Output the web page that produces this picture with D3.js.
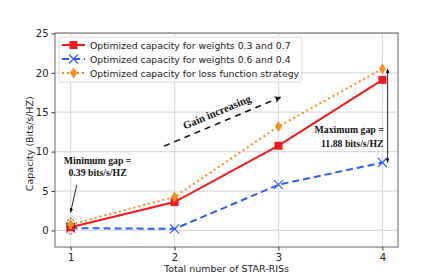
<!DOCTYPE html>
<html>
<head>
<meta charset="utf-8">
<script src="https://cdn.jsdelivr.net/npm/d3@7"></script>
<style>
  body { margin: 0; background: #fff; }
  svg { display: block; }
</style>
</head>
<body>
<div id="chart"></div>
<script>
// Chart data
var starRis = [1, 2, 3, 4];
var weights37 = [0.4, 3.6, 10.75, 19.1];
var weights64 = [0.3, 0.2, 5.8, 8.62];
var lossStrategy = [0.75, 4.25, 13.2, 20.5];
var yTicks = [0, 5, 10, 15, 20, 25];
var seriesNames = [
    "Optimized capacity for weights 0.3 and 0.7",
    "Optimized capacity for weights 0.6 and 0.4",
    "Optimized capacity for loss function strategy"
];

var svgWidth = 443, svgHeight = 277;
var margin = { top: 33, right: 45, bottom: 30, left: 55 };
var width = svgWidth - margin.left - margin.right;
var height = svgHeight - margin.top - margin.bottom;

var svg = d3.select("#chart").append("svg")
    .attr("width", svgWidth)
    .attr("height", svgHeight);

var chartGroup = svg.append("g")
    .attr("transform", `translate(${margin.left}, ${margin.top})`);

var xScale = d3.scaleLinear().domain([0.85, 4.15]).range([0, width]);
var yScale = d3.scaleLinear().domain([-2.1, 25.05]).range([height, 0]);

// Grid
chartGroup.append("g").selectAll("line")
    .data(starRis).enter().append("line")
    .attr("x1", d => xScale(d)).attr("x2", d => xScale(d))
    .attr("y1", 0).attr("y2", height)
    .attr("stroke", "#dcdcdc").attr("stroke-width", 1.2);
chartGroup.append("g").selectAll("line")
    .data(yTicks).enter().append("line")
    .attr("y1", d => yScale(d)).attr("y2", d => yScale(d))
    .attr("x1", 0).attr("x2", width)
    .attr("stroke", "#dcdcdc").attr("stroke-width", 1.2);

// Axes
var xAxis = d3.axisBottom(xScale).tickValues(starRis).tickFormat(d3.format("d")).tickSize(3.5);
var yAxis = d3.axisLeft(yScale).tickValues(yTicks).tickSize(3.5);

var gx = chartGroup.append("g").attr("transform", `translate(0, ${height})`).call(xAxis);
var gy = chartGroup.append("g").call(yAxis);
[gx, gy].forEach(function(g) {
    g.select(".domain").remove();
    g.selectAll("line").attr("stroke", "#333");
    g.selectAll("text").attr("font-family", "DejaVu Sans").attr("font-size", "10px").attr("fill", "#222");
});

chartGroup.append("rect")
    .attr("width", width).attr("height", height)
    .attr("fill", "none").attr("stroke", "#666").attr("stroke-width", 1);

// Lines
var line = d3.line().x((d, i) => xScale(starRis[i])).y(d => yScale(d));

chartGroup.append("path").datum(weights64)
    .attr("d", line).attr("fill", "none")
    .attr("stroke", "#2f5cf5").attr("stroke-width", 2)
    .attr("stroke-dasharray", "7,4");

chartGroup.append("path").datum(lossStrategy)
    .attr("d", line).attr("fill", "none")
    .attr("stroke", "#ff8c1a").attr("stroke-width", 2)
    .attr("stroke-dasharray", "2,3");

chartGroup.append("path").datum(weights37)
    .attr("d", line).attr("fill", "none")
    .attr("stroke", "#f21b1b").attr("stroke-width", 2);

// Markers
function drawSquares(g, data, cx, cy) {
    g.selectAll(null).data(data).enter().append("rect")
        .attr("x", (d, i) => cx(i) - 4).attr("y", d => cy(d) - 4)
        .attr("width", 8).attr("height", 8).attr("fill", "#f21b1b");
}
function drawCrosses(g, data, cx, cy) {
    g.selectAll(null).data(data).enter().append("path")
        .attr("d", (d, i) => {
            var x = cx(i), y = cy(d), s = 4.5;
            return `M${x - s},${y - s}L${x + s},${y + s}M${x - s},${y + s}L${x + s},${y - s}`;
        })
        .attr("stroke", "#2f5cf5").attr("stroke-width", 1.1).attr("fill", "none");
}
function drawDiamonds(g, data, cx, cy) {
    g.selectAll(null).data(data).enter().append("path")
        .attr("d", (d, i) => {
            var x = cx(i), y = cy(d);
            return `M${x},${y - 5.5}L${x + 3.5},${y}L${x},${y + 5.5}L${x - 3.5},${y}Z`;
        })
        .attr("fill", "#ff8c1a");
}
var cxf = i => xScale(starRis[i]);
var cyf = d => yScale(d);
drawCrosses(chartGroup.append("g"), weights64, cxf, cyf);
drawSquares(chartGroup.append("g"), weights37, cxf, cyf);
drawDiamonds(chartGroup.append("g"), lossStrategy, cxf, cyf);

// Legend
var legend = chartGroup.append("g").attr("transform", "translate(4, 4)");
legend.append("rect")
    .attr("width", 243).attr("height", 45).attr("rx", 2)
    .attr("fill", "#fff").attr("fill-opacity", 0.85)
    .attr("stroke", "#ddd");
var legendStyles = [
    { color: "#f21b1b", dash: null, marker: drawSquares },
    { color: "#2f5cf5", dash: "7,4", marker: drawCrosses },
    { color: "#ff8c1a", dash: "2,3", marker: drawDiamonds }
];
seriesNames.forEach(function(name, i) {
    var ly = 8 + i * 14;
    var st = legendStyles[i];
    legend.append("line")
        .attr("x1", 3).attr("x2", 26).attr("y1", ly).attr("y2", ly)
        .attr("stroke", st.color).attr("stroke-width", 2)
        .attr("stroke-dasharray", st.dash);
    st.marker(legend, [ly], () => 14.5, d => d);
    legend.append("text")
        .attr("x", 31).attr("y", ly)
        .attr("dominant-baseline", "central")
        .attr("font-family", "DejaVu Sans").attr("font-size", "9.3px").attr("fill", "#222")
        .text(name);
});

// Axis labels
chartGroup.append("text")
    .attr("transform", `translate(${width / 2}, ${height + 25})`)
    .attr("text-anchor", "middle")
    .attr("font-family", "DejaVu Sans").attr("font-size", "9.5px").attr("fill", "#222")
    .text("Total number of STAR-RISs");

chartGroup.append("text")
    .attr("transform", `translate(-22, ${yScale(11)}) rotate(-90)`)
    .attr("text-anchor", "middle")
    .attr("font-family", "DejaVu Sans").attr("font-size", "9.5px").attr("fill", "#222")
    .text("Capacity (Bits/s/HZ)");

// Annotations
var defs = svg.append("defs");
defs.append("marker").attr("id", "head").attr("viewBox", "0 0 10 10")
    .attr("refX", 9).attr("refY", 5).attr("markerWidth", 5).attr("markerHeight", 5)
    .attr("orient", "auto-start-reverse")
    .append("path").attr("d", "M0,1L10,5L0,9Z").attr("fill", "#111");
defs.append("marker").attr("id", "bighead").attr("viewBox", "0 0 10 10")
    .attr("refX", 9).attr("refY", 5).attr("markerWidth", 7).attr("markerHeight", 7)
    .attr("markerUnits", "userSpaceOnUse").attr("orient", "auto")
    .append("path").attr("d", "M0,0L10,5L0,10L3,5Z").attr("fill", "#111");

var serif = "Liberation Serif";
function boldText(x, y, t, anchor) {
    chartGroup.append("text")
        .attr("x", x).attr("y", y).attr("text-anchor", anchor || "middle")
        .attr("font-family", serif).attr("font-weight", "bold")
        .attr("font-size", "9.8px").attr("fill", "#111")
        .text(t);
}

// Minimum gap
boldText(xScale(1.26), yScale(8.4), "Minimum gap =");
boldText(xScale(1.26), yScale(6.9), "0.39 bits/s/HZ");
chartGroup.append("line")
    .attr("x1", xScale(1.06)).attr("y1", yScale(5.8))
    .attr("x2", xScale(1.0)).attr("y2", yScale(2.3))
    .attr("stroke", "#111").attr("stroke-width", 0.9)
    .attr("marker-end", "url(#head)");
chartGroup.append("ellipse")
    .attr("cx", xScale(1)).attr("cy", yScale(0.55))
    .attr("rx", 4).attr("ry", 8)
    .attr("fill", "none").attr("stroke", "#111")
    .attr("stroke-width", 0.8).attr("stroke-dasharray", "2,1.5");

// Maximum gap
boldText(xScale(3.68), yScale(12.3), "Maximum gap =");
boldText(xScale(3.71), yScale(10.6), "11.88 bits/s/HZ");
chartGroup.append("line")
    .attr("x1", xScale(4.05)).attr("y1", yScale(20.5))
    .attr("x2", xScale(4.05)).attr("y2", yScale(8.62))
    .attr("stroke", "#111").attr("stroke-width", 0.9)
    .attr("marker-start", "url(#head)").attr("marker-end", "url(#head)");

// Gain increasing
var gx1 = xScale(1.9), gy1 = yScale(10.7), gx2 = xScale(3.02), gy2 = yScale(16.9);
chartGroup.append("line")
    .attr("x1", gx1).attr("y1", gy1).attr("x2", gx2).attr("y2", gy2)
    .attr("stroke", "#111").attr("stroke-width", 1.5)
    .attr("stroke-dasharray", "6,5")
    .attr("marker-end", "url(#bighead)");
var ang = Math.atan2(gy2 - gy1, gx2 - gx1) * 180 / Math.PI;
chartGroup.append("text")
    .attr("transform", `translate(${xScale(2.42)}, ${yScale(14.6)}) rotate(${ang})`)
    .attr("text-anchor", "middle")
    .attr("font-family", serif).attr("font-weight", "bold")
    .attr("font-size", "10.8px").attr("fill", "#111")
    .text("Gain increasing");
</script>
</body>
</html>
